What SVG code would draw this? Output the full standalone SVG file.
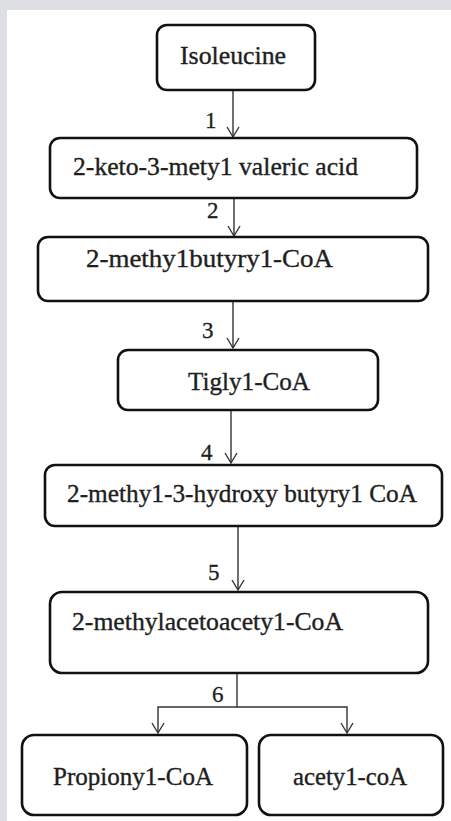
<svg xmlns="http://www.w3.org/2000/svg" width="451" height="821" viewBox="0 0 451 821">
<defs>
<style>
.box{fill:#fff;stroke:#111;stroke-width:2.6}
.t{font-family:"Liberation Serif","Times New Roman",serif;font-size:25px;fill:#1e1e1e;stroke:#1e1e1e;stroke-width:0.35}
.n{font-family:"Liberation Serif","Times New Roman",serif;font-size:23px;fill:#1e1e1e;stroke:#1e1e1e;stroke-width:0.3}
.c{fill:none;stroke:#333;stroke-width:1.4}
</style>
<marker id="v" viewBox="-12 -8 14 16" markerWidth="14" markerHeight="16" refX="0" refY="0" orient="auto" markerUnits="userSpaceOnUse">
<path d="M-10,-6 L0,0 L-10,6" fill="none" stroke="#333" stroke-width="1.4"/>
</marker>
</defs>
<rect x="0" y="0" width="451" height="821" fill="#dddfe2"/>
<rect x="7" y="10" width="444" height="811" fill="#fff"/>

<g id="connectors">
<line class="c" x1="233" y1="90" x2="233" y2="137" marker-end="url(#v)"/>
<line class="c" x1="234" y1="190" x2="234" y2="236" marker-end="url(#v)"/>
<line class="c" x1="233" y1="301" x2="233" y2="348" marker-end="url(#v)"/>
<line class="c" x1="231" y1="410" x2="231" y2="463" marker-end="url(#v)"/>
<line class="c" x1="238" y1="526" x2="238" y2="590" marker-end="url(#v)"/>
<polyline class="c" points="237,673 237,707 158,707 158,733" marker-end="url(#v)"/>
<polyline class="c" points="237,707 347,707 347,733" marker-end="url(#v)"/>
<text class="n" x="205" y="128">1</text>
<text class="n" x="207" y="218">2</text>
<text class="n" x="202" y="338">3</text>
<text class="n" x="201" y="460">4</text>
<text class="n" x="208" y="580">5</text>
<text class="n" x="212" y="702">6</text>
</g>

<g id="isoleucine">
<rect class="box" x="157" y="25" width="158" height="65" rx="10"/>
<text class="t" x="180" y="64" textLength="106" lengthAdjust="spacingAndGlyphs">Isoleucine</text>
</g>
<g id="keto-acid">
<rect class="box" x="50" y="138" width="367" height="60" rx="10"/>
<text class="t" x="73" y="175" textLength="285" lengthAdjust="spacingAndGlyphs">2-keto-3-mety1 valeric acid</text>
</g>
<g id="methylbutyryl">
<rect class="box" x="38" y="237" width="390" height="64" rx="10"/>
<text class="t" x="86" y="267" textLength="247" lengthAdjust="spacingAndGlyphs">2-methy1butyry1-CoA</text>
</g>
<g id="tiglyl">
<rect class="box" x="118" y="350" width="260" height="60" rx="10"/>
<text class="t" x="188" y="390" textLength="122" lengthAdjust="spacingAndGlyphs">Tigly1-CoA</text>
</g>
<g id="hydroxybutyryl">
<rect class="box" x="45" y="465" width="397" height="61" rx="10"/>
<text class="t" x="67" y="502" textLength="350" lengthAdjust="spacingAndGlyphs">2-methy1-3-hydroxy butyry1 CoA</text>
</g>
<g id="methylacetoacetyl">
<rect class="box" x="50" y="592" width="378" height="81" rx="12"/>
<text class="t" x="72" y="630" textLength="271" lengthAdjust="spacingAndGlyphs">2-methylacetoacety1-CoA</text>
</g>
<g id="propionyl">
<rect class="box" x="22" y="735" width="225" height="80" rx="12"/>
<text class="t" x="53" y="785" textLength="160" lengthAdjust="spacingAndGlyphs">Propiony1-CoA</text>
</g>
<g id="acetyl">
<rect class="box" x="259" y="735" width="184" height="80" rx="12"/>
<text class="t" x="293" y="785" textLength="114" lengthAdjust="spacingAndGlyphs">acety1-coA</text>
</g>
</svg>
